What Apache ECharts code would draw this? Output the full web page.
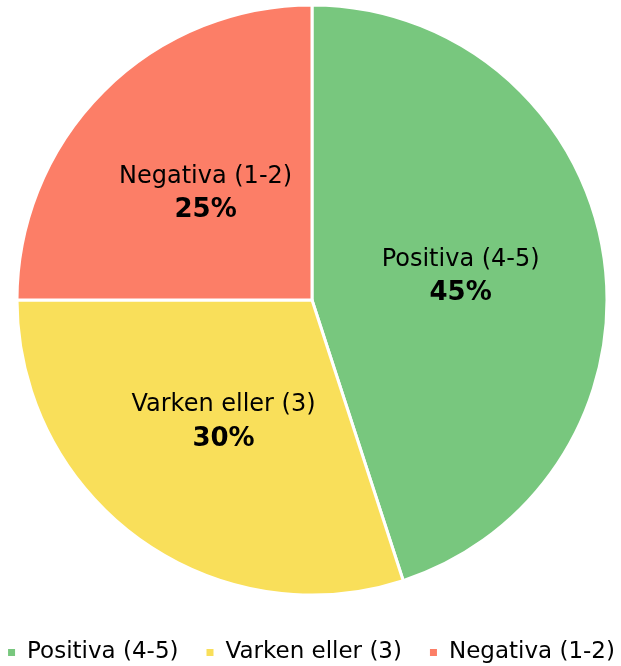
<!DOCTYPE html>
<html>
<head>
<meta charset="utf-8">
<script src="https://cdn.jsdelivr.net/npm/echarts@6/dist/echarts.min.js"></script>
<style>
  html, body { margin: 0; padding: 0; background: #fff; }
  #chart { width: 621px; height: 666px; }
</style>
</head>
<body>
<div id="chart"></div>
<script>
// data
var categories = ["Positiva (4-5)", "Varken eller (3)", "Negativa (1-2)"];
var shares = [45, 30, 25];
var colors = ["#78C77E", "#F9DF5A", "#FC7E67"];

var chart = echarts.init(document.getElementById("chart"));
var fontFam = "DejaVu Sans";

var option = {
  animation: false,
  color: colors,
  legend: {
    top: 636,
    left: "center",
    icon: "rect",
    itemWidth: 9,
    itemHeight: 9,
    itemGap: 26,
    textStyle: { fontFamily: fontFam, fontSize: 23, color: "#000", padding: [0, 0, 0, 6] },
    data: categories
  },
  series: [
    {
      type: "pie",
      center: [312, 300],
      radius: [0, 295],
      startAngle: 90,
      clockwise: true,
      itemStyle: { borderColor: "#fff", borderWidth: 3 },
      label: {
        position: "inner",
        fontFamily: fontFam,
        color: "#000",
        formatter: function (p) {
          return p.name + "\n{b|" + p.value + "%}";
        },
        fontSize: 24,
        lineHeight: 34,
        rich: {
          b: { fontFamily: fontFam, fontSize: 26, fontWeight: "bold", color: "#000", lineHeight: 34 }
        }
      },
      labelLine: { show: false },
      data: categories.map(function (c, i) {
        return { name: c, value: shares[i] };
      })
    }
  ]
};

chart.setOption(option);
</script>
</body>
</html>
